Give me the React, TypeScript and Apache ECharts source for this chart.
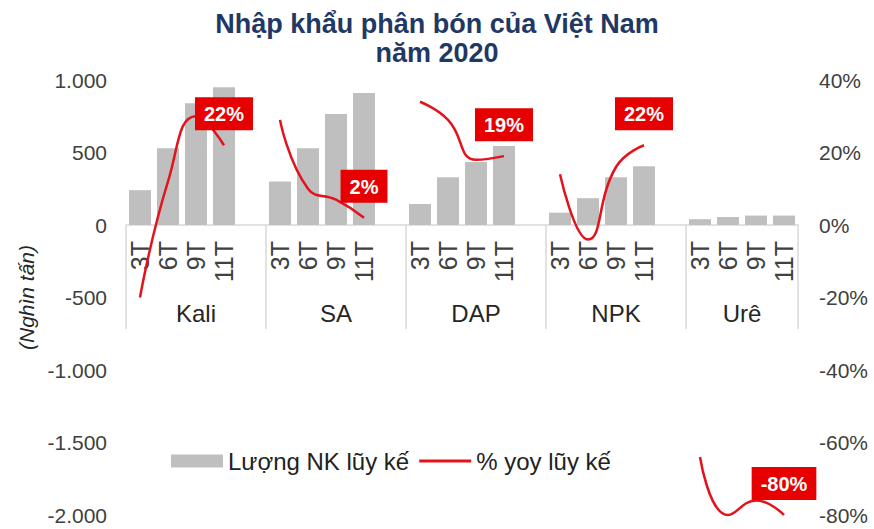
import React, { useEffect, useRef } from 'react';
import * as echarts from 'echarts';

const groups = ['Kali', 'SA', 'DAP', 'NPK', 'Urê'];
const periods = ['3T', '6T', '9T', '11T'];

const kaliVolume = [240, 530, 840, 950];
const saVolume = [300, 530, 765, 910];
const dapVolume = [145, 330, 435, 545];
const npkVolume = [85, 185, 330, 405];
const ureVolume = [40, 55, 65, 65];

const kaliYoy = [-20, 12, 30, 22];
const saYoy = [29, 10, 7, 2];
const dapYoy = [34, 29, 18, 19];
const npkYoy = [14, -4, 16, 22];
const ureYoy = [-64, -80, -76, -80];

const volumes = [kaliVolume, saVolume, dapVolume, npkVolume, ureVolume];
const yoys = [kaliYoy, saYoy, dapYoy, npkYoy, ureYoy];

const BAR_NAME = 'Lượng NK lũy kế';
const LINE_NAME = '% yoy lũy kế';
const RED = '#e3121b';
const TEXT = '#404040';
const FONT = 'Liberation Sans';

function fmtThousands(v: number): string {
  const s = Math.abs(v).toString().replace(/\B(?=(\d{3})+(?!\d))/g, '.');
  return (v < 0 ? '-' : '') + s;
}

export default function App() {
  const ref = useRef<HTMLDivElement>(null);
  useEffect(() => {
    if (!ref.current) return;
    const chart = echarts.init(ref.current, null, { renderer: 'svg' });

    const cats: string[] = [];
    const barData: (number | null)[] = [];
    const groupStart: number[] = [];
    groups.forEach((g, gi) => {
      groupStart.push(cats.length);
      periods.forEach((p, pi) => {
        cats.push(p);
        barData.push(volumes[gi][pi]);
      });
      if (gi < groups.length - 1) {
        cats.push('');
        barData.push(null);
      }
    });
    const nSlots = cats.length;
    const halfCats: string[] = new Array(nSlots * 2 + 1).fill('');
    const sepIdx: number[] = [];
    groups.forEach((g, gi) => {
      const start = groupStart[gi];
      const end = gi < groups.length - 1 ? groupStart[gi + 1] : nSlots;
      sepIdx.push(start * 2);
      halfCats[start + end] = g;
    });
    sepIdx.push(nSlots * 2);

    const lineSeries = groups.map((g, gi) => {
      const data: any[] = new Array(nSlots).fill(null);
      yoys[gi].forEach((v, pi) => {
        const idx = groupStart[gi] + pi;
        data[idx] = pi === periods.length - 1 ? { value: v, label: { show: true } } : v;
      });
      return {
        type: 'line',
        name: LINE_NAME,
        xAxisIndex: 0,
        yAxisIndex: 1,
        data,
        smooth: true,
        symbol: 'circle',
        symbolSize: 0,
        clip: false,
        connectNulls: false,
        z: 5,
        lineStyle: { color: RED, width: 2.5 },
        itemStyle: { color: RED },
        label: {
          show: false,
          position: 'top',
          distance: 15,
          formatter: (p: any) => p.value + '%',
          backgroundColor: '#e60000',
          color: '#ffffff',
          fontWeight: 'bold',
          fontSize: 20,
          fontFamily: FONT,
          padding: [7, 9, 6, 9],
        },
      };
    });

    const gridBase = { left: 126, right: 76, outerBoundsMode: 'none', containLabel: false };

    const option: any = {
      animation: false,
      textStyle: { fontFamily: FONT },
      title: {
        text: 'Nhập khẩu phân bón của Việt Nam\nnăm 2020',
        left: 'center',
        top: 4,
        textStyle: {
          fontSize: 27,
          fontWeight: 'bold',
          color: '#1f3864',
          lineHeight: 29,
          fontFamily: FONT,
        },
      },
      legend: {
        left: 166,
        top: 444,
        itemWidth: 52,
        itemHeight: 13,
        itemGap: 10,
        data: [
          { name: BAR_NAME, icon: 'rect' },
          { name: LINE_NAME, icon: 'path://M0,0H52V3H0Z' },
        ],
        textStyle: { fontSize: 24, color: '#222', fontFamily: FONT },
      },
      grid: [
        { ...gridBase, top: 80, bottom: 14 },
        { ...gridBase, top: 80, bottom: 304 },
        { ...gridBase, top: 80, bottom: 304 },
      ],
      xAxis: [
        {
          type: 'category',
          gridIndex: 0,
          data: cats,
          show: false,
        },
        {
          type: 'category',
          gridIndex: 1,
          data: cats,
          axisLine: { show: true, onZero: false, lineStyle: { color: '#d9d9d9', width: 1.5 } },
          axisTick: { show: false },
          axisLabel: {
            rotate: 90,
            interval: 0,
            margin: 16,
            fontSize: 25,
            color: TEXT,
            fontFamily: FONT,
          },
        },
        {
          type: 'category',
          gridIndex: 2,
          data: halfCats,
          boundaryGap: false,
          axisLine: { show: false, onZero: false },
          axisTick: {
            show: true,
            length: 104,
            interval: (index: number) => sepIdx.indexOf(index) >= 0,
            lineStyle: { color: '#d9d9d9', width: 1.5 },
          },
          axisLabel: {
            interval: 0,
            margin: 76,
            fontSize: 24,
            color: '#262626',
            fontFamily: FONT,
          },
        },
      ],
      yAxis: [
        {
          type: 'value',
          gridIndex: 0,
          position: 'left',
          min: -2000,
          max: 1000,
          interval: 500,
          splitLine: { show: false },
          axisLine: { show: false },
          axisTick: { show: false },
          axisLabel: {
            formatter: (v: number) => fmtThousands(v),
            fontSize: 21,
            color: TEXT,
            margin: 19,
            fontFamily: FONT,
          },
          name: '(Nghìn tấn)',
          nameLocation: 'middle',
          nameRotate: 90,
          nameGap: 73,
          nameTextStyle: { fontSize: 21, fontStyle: 'italic', color: '#262626', fontFamily: FONT },
        },
        {
          type: 'value',
          gridIndex: 0,
          position: 'right',
          min: -80,
          max: 40,
          interval: 20,
          splitLine: { show: false },
          axisLine: { show: false },
          axisTick: { show: false },
          axisLabel: {
            formatter: (v: number) => v + '%',
            fontSize: 21,
            color: TEXT,
            margin: 21,
            fontFamily: FONT,
          },
        },
        { type: 'value', gridIndex: 1, min: 0, max: 1000, show: false, splitLine: { show: false } },
        { type: 'value', gridIndex: 2, min: 0, max: 1000, show: false, splitLine: { show: false } },
      ],
      series: [
        {
          type: 'bar',
          name: BAR_NAME,
          xAxisIndex: 0,
          yAxisIndex: 0,
          data: barData,
          barWidth: 22,
          itemStyle: { color: '#bfbfbf' },
          z: 2,
        },
        ...lineSeries,
      ],
    };
    chart.setOption(option);
    return () => chart.dispose();
  }, []);

  return (
    <div
      ref={ref}
      style={{ position: 'fixed', left: 0, top: 0, width: 874, height: 529, background: '#ffffff' }}
    />
  );
}
